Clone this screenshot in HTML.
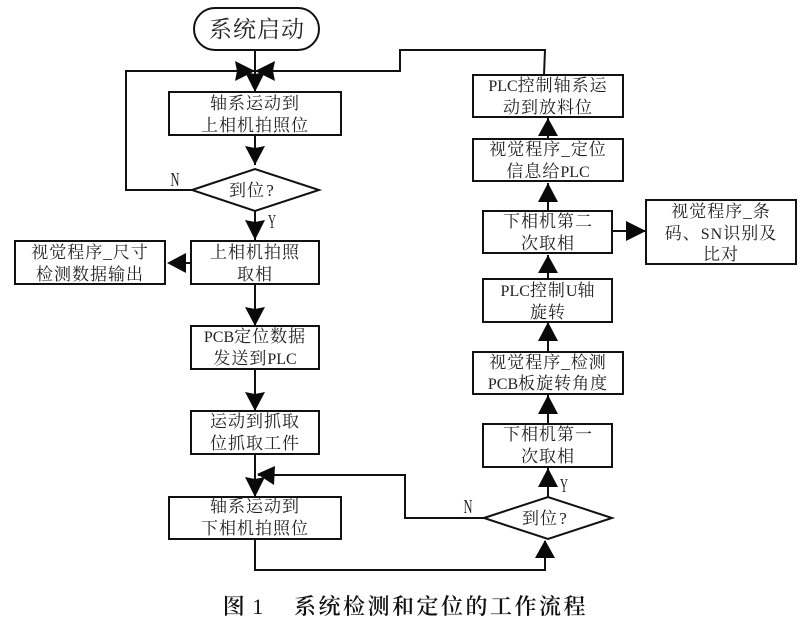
<!DOCTYPE html>
<html>
<head>
<meta charset="utf-8">
<style>
html,body{margin:0;padding:0;background:#fff;width:800px;height:637px;overflow:hidden}
svg{display:block}
text{font-family:"Liberation Serif","Noto Serif CJK SC",serif;fill:#222;text-anchor:middle;font-size:17px;letter-spacing:1px}
tspan.n{font-size:16px;letter-spacing:0}
.l{fill:none;stroke:#111;stroke-width:2}
.b{fill:#fff;stroke:#111;stroke-width:2}
.a{fill:#0a0a0a;stroke:none}
.t{font-size:22px;letter-spacing:2.5px;font-weight:600;fill:#111}
.q{font-size:17px;letter-spacing:0}
.m{font-size:20px;letter-spacing:0}
</style>
</head>
<body>
<svg width="800" height="637" viewBox="0 0 800 637" xmlns="http://www.w3.org/2000/svg">
<g style="filter:blur(0.3px)">
<!-- connectors -->
<path class="l" d="M255 50V92M255 135V165M255 211V240M255 284V326M255 369V411M255 454V497"/>
<path class="l" d="M192 190H126V71H255"/>
<path class="l" d="M544 75L545 50H400V71H255"/>
<path class="l" d="M191 263H170"/>
<path class="l" d="M255 539V570H545V541"/>
<path class="l" d="M484 518H405V475H258"/>
<path class="l" d="M548 497V468M548 424V395M548 352V322M548 279V255M548 211V183M548 139V118M612 231H646"/>
<!-- shapes -->
<rect class="b" x="194" y="8" width="125" height="42" rx="21" ry="21"/>
<rect class="b" x="169" y="92" width="172" height="43"/>
<polygon class="b" points="192,190 255,169 319,190 255,211"/>
<rect class="b" x="191" y="241" width="128" height="43"/>
<rect class="b" x="15" y="241" width="150" height="43"/>
<rect class="b" x="191" y="326" width="128" height="43"/>
<rect class="b" x="191" y="411" width="128" height="43"/>
<rect class="b" x="169" y="497" width="172" height="42"/>
<polygon class="b" points="484,518 548,497 612,518 548,539"/>
<rect class="b" x="483" y="424" width="129" height="43"/>
<rect class="b" x="473" y="352" width="150" height="42"/>
<rect class="b" x="483" y="279" width="129" height="43"/>
<rect class="b" x="483" y="211" width="129" height="42"/>
<rect class="b" x="646" y="200" width="150" height="64"/>
<rect class="b" x="473" y="139" width="150" height="42"/>
<rect class="b" x="473" y="75" width="150" height="42"/>
<!-- arrowheads -->
<polygon class="a" points="255,92 245,72 255,74 265,72"/>
<polygon class="a" points="255,71 235,61 237,71 235,81"/>
<polygon class="a" points="255,71 275,61 273,71 275,81"/>
<polygon class="a" points="255,165 245,146 255,148 265,146"/>
<polygon class="a" points="255,240 245,220 255,222 265,220"/>
<polygon class="a" points="167,263 186,253 186,273"/>
<polygon class="a" points="255,326 245,307 255,309 265,307"/>
<polygon class="a" points="255,411 245,392 255,394 265,392"/>
<polygon class="a" points="255,497 245,477 255,479 265,477"/>
<polygon class="a" points="257,474 275,466 274,485"/>
<polygon class="a" points="545,540 535,558 555,558"/>
<polygon class="a" points="548,468 538,487 558,487"/>
<polygon class="a" points="548,395 538,414 558,414"/>
<polygon class="a" points="548,322 538,341 558,341"/>
<polygon class="a" points="548,255 538,273 558,273"/>
<polygon class="a" points="548,183 538,202 558,202"/>
<polygon class="a" points="548,118 538,136 558,136"/>
<polygon class="a" points="646,231 626,221 626,241"/>
<!-- labels -->
<text x="257" y="37" style="font-size:23px;letter-spacing:1px">系统启动</text>
<text x="255" y="109">轴系运动到</text>
<text x="255" y="131">上相机拍照位</text>
<text x="247" y="196">到位</text>
<text x="270" y="196" class="q">?</text>
<text x="175" y="186" textLength="9" lengthAdjust="spacingAndGlyphs" class="m">N</text>
<text x="272" y="228" textLength="8" lengthAdjust="spacingAndGlyphs" class="m">Y</text>
<text x="255" y="258">上相机拍照</text>
<text x="255" y="280">取相</text>
<text x="90" y="258">视觉程序_尺寸</text>
<text x="90" y="280">检测数据输出</text>
<text x="255" y="342"><tspan class="n">PCB</tspan>定位数据</text>
<text x="255" y="364">发送到<tspan class="n">PLC</tspan></text>
<text x="255" y="427">运动到抓取</text>
<text x="255" y="449">位抓取工件</text>
<text x="255" y="512">轴系运动到</text>
<text x="255" y="534">下相机拍照位</text>
<text x="540" y="524">到位</text>
<text x="563" y="524" class="q">?</text>
<text x="468" y="513" textLength="9" lengthAdjust="spacingAndGlyphs" class="m">N</text>
<text x="564" y="492" textLength="8" lengthAdjust="spacingAndGlyphs" class="m">Y</text>
<text x="548" y="440">下相机第一</text>
<text x="548" y="462">次取相</text>
<text x="548" y="368">视觉程序_检测</text>
<text x="548" y="389"><tspan class="n">PCB</tspan>板旋转角度</text>
<text x="548" y="296"><tspan class="n">PLC</tspan>控制<tspan class="n">U</tspan>轴</text>
<text x="548" y="318">旋转</text>
<text x="548" y="227">下相机第二</text>
<text x="548" y="249">次取相</text>
<text x="721" y="217">视觉程序_条</text>
<text x="721" y="239">码、<tspan class="n" style="letter-spacing:1px">SN</tspan>识别及</text>
<text x="721" y="260">比对</text>
<text x="548" y="155">视觉程序_定位</text>
<text x="548" y="177">信息给<tspan class="n">PLC</tspan></text>
<text x="548" y="91"><tspan class="n">PLC</tspan>控制轴系运</text>
<text x="548" y="113">动到放料位</text>
<text x="235" y="614" class="t">图</text>
<text x="259" y="614" class="t" style="font-weight:400">1</text>
<text x="441" y="614" class="t">系统检测和定位的工作流程</text>
</g>
</svg>
</body>
</html>
